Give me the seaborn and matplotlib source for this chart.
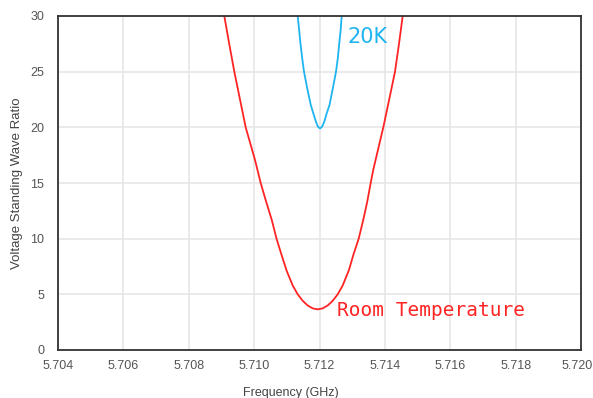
import matplotlib
matplotlib.use("Agg")
import matplotlib.pyplot as plt
import matplotlib.transforms as mtransforms
import seaborn as sns
import pandas as pd

# Measured VSWR around the cavity resonance
room_freq = [5.709088, 5.709238, 5.709394, 5.709568, 5.709742, 5.710027, 5.710201,
             5.710370, 5.710538, 5.710685, 5.710844, 5.710997, 5.711180, 5.711333,
             5.711486, 5.711639, 5.711792, 5.711945, 5.712098, 5.712251, 5.712404,
             5.712557, 5.712710, 5.712903, 5.713031, 5.713199, 5.713340, 5.713459,
             5.713566, 5.713646, 5.713750, 5.713952, 5.714132, 5.714310, 5.714432,
             5.714545]
room_vswr = [30.0, 27.5, 25.0, 22.5, 20.0, 17.07, 15.0,
             13.3, 11.7, 10.0, 8.5, 7.1, 5.8, 5.0,
             4.42, 4.0, 3.74, 3.65, 3.74, 4.0, 4.42,
             5.0, 5.8, 7.2, 8.5, 10.0, 11.7, 13.3,
             15.0, 16.2, 17.5, 20.0, 22.5, 25.0, 27.5,
             30.0]

cold_freq = [5.711333, 5.711379, 5.711419, 5.711471, 5.711526, 5.711624, 5.711734,
             5.711817, 5.711893, 5.711954, 5.712015, 5.712077, 5.712147, 5.712214,
             5.712306, 5.712407, 5.712505, 5.712560, 5.712603, 5.712646, 5.712679]
cold_vswr = [30.0, 28.7, 27.5, 26.2, 25.0, 23.5, 22.0,
             21.2, 20.5, 20.05, 19.9, 20.05, 20.5, 21.2,
             22.0, 23.5, 25.0, 26.2, 27.5, 28.7, 30.0]

x_ticks = [5.704, 5.706, 5.708, 5.710, 5.712, 5.714, 5.716, 5.718, 5.720]
y_ticks = [0, 5, 10, 15, 20, 25, 30]

room = pd.DataFrame({"freq": room_freq, "vswr": room_vswr})
cold = pd.DataFrame({"freq": cold_freq, "vswr": cold_vswr})

sns.set_style("white")
plt.rcParams["font.family"] = ["Liberation Sans", "DejaVu Sans"]

fig = plt.figure(figsize=(5.93, 3.98), dpi=100)
ax = fig.add_axes([58 / 593, 1 - 350 / 398, 523 / 593, 334 / 398])

red = "#ff2424"
blue = "#1eb4f0"

sns.lineplot(data=room, x="freq", y="vswr", ax=ax, color=red, linewidth=1.3,
             estimator=None, sort=False)
sns.lineplot(data=cold, x="freq", y="vswr", ax=ax, color=blue, linewidth=1.3,
             estimator=None, sort=False)

ax.set_xlim(x_ticks[0], x_ticks[-1])
ax.set_ylim(y_ticks[0], y_ticks[-1])
ax.set_xticks(x_ticks)
ax.set_xticklabels([f"{v:.3f}" for v in x_ticks])
ax.set_yticks(y_ticks)
ax.set_yticklabels([str(v) for v in y_ticks])
ax.tick_params(axis="both", length=0, labelsize=9, labelcolor="#555555")
ax.tick_params(axis="x", pad=7)
ax.tick_params(axis="y", pad=10)

# keep the last frequency label inside the canvas
last = ax.get_xticklabels()[-1]
last.set_transform(last.get_transform() +
                   mtransforms.ScaledTranslation(-4 / 100, 0, fig.dpi_scale_trans))

ax.grid(True, color="#e6e6e6", linewidth=1.2)
ax.set_axisbelow(True)
for side in ["left", "bottom", "top", "right"]:
    ax.spines[side].set_visible(True)
    ax.spines[side].set_color("#333333")
    ax.spines[side].set_linewidth(1.3)

ax.set_xlabel("Frequency (GHz)", fontsize=9, color="#444444")
ax.set_ylabel("Voltage Standing Wave Ratio", fontsize=9.5, color="#444444")
ax.xaxis.set_label_coords(0.446, -0.111)
ax.yaxis.set_label_coords(-0.067, 0.5)

ax.text(5.712863, 27.6, "20K", color=blue, fontsize=15,
        family=["DejaVu Sans"], va="baseline", ha="left")
ax.text(5.712535, 3.05, "Room Temperature", color=red, fontsize=14,
        family=["DejaVu Sans Mono"], va="baseline", ha="left")

fig.savefig("out.png", dpi=100)
